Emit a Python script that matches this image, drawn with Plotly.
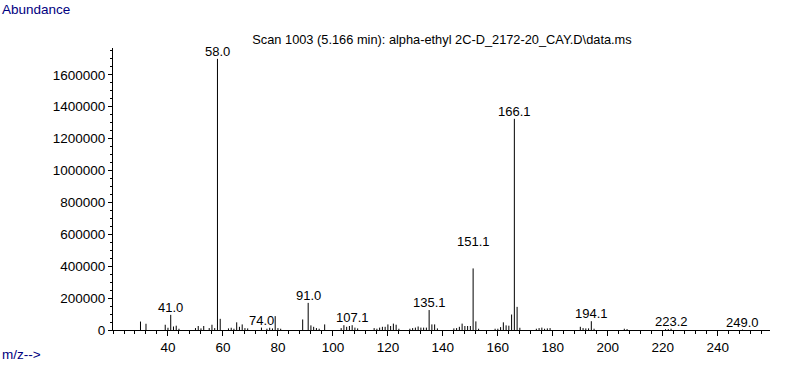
import plotly.graph_objects as go

# ---- data ----
mz = [30, 32, 39, 40, 41, 42, 43, 44, 50, 51, 52, 53, 55, 56, 57, 58, 59,
      62, 63, 64, 65, 66, 67, 68, 69, 74, 76, 77, 78, 79, 80, 81, 89, 91,
      92, 93, 94, 95, 97, 103, 104, 105, 106, 107, 108, 109, 115, 116, 117,
      118, 119, 120, 121, 122, 123, 124, 128, 129, 130, 131, 132, 133, 134,
      135, 136, 137, 138, 144, 145, 146, 147, 148, 149, 150, 151, 152, 153,
      159, 160, 161, 162, 163, 164, 165, 166, 167, 168, 174, 175, 176, 177,
      178, 179, 190, 191, 192, 193, 194, 195, 206, 207, 221, 222, 223, 249]
abundance = [53000, 39000, 33000, 14000, 95000, 22000, 27000, 8000, 12000,
             25000, 10000, 25000, 12000, 33000, 12000, 1700000, 70000,
             10000, 14000, 8000, 48000, 20000, 35000, 12000, 10000, 15000,
             8000, 14000, 10000, 87000, 12000, 8000, 66000, 170000,
             29000, 20000, 12000, 8000, 35000, 12000, 30000, 20000, 25000,
             30000, 15000, 10000, 12000, 8000, 15000,
             20000, 20000, 35000, 25000, 40000, 33000, 8000, 8000, 12000,
             15000, 22000, 15000, 15000, 15000,
             125000, 35000, 35000, 10000, 10000, 12000, 20000, 40000, 25000,
             25000, 25000, 386000, 54000, 8000,
             8000, 8000, 18000, 48000, 29000, 27000, 97000, 1324000, 145000,
             14000, 8000, 12000, 15000, 8000,
             10000, 12000, 20000, 12000, 10000, 10000, 55000, 8000, 8000,
             6000, 5000, 6000, 8000, 3000]

label_text = ["41.0", "58.0", "74.0", "91.0", "107.1", "135.1", "151.1",
              "166.1", "194.1", "223.2", "249.0"]
label_mz = [41.0, 58.0, 74.0, 91.0, 107.1, 135.1, 151.1, 166.1, 194.1,
            223.2, 249.0]

x_ticks = [40, 60, 80, 100, 120, 140, 160, 180, 200, 220, 240]
y_ticks = [0, 200000, 400000, 600000, 800000, 1000000, 1200000, 1400000,
           1600000]

title_text = "Scan 1003 (5.166 min): alpha-ethyl 2C-D_2172-20_CAY.D\\data.ms"

# ---- build stick spectrum ----
xs, ys = [], []
for m, a in zip(mz, abundance):
    xs += [m, m, None]
    ys += [0, a, None]

FONT = "Liberation Sans, Arial, sans-serif"

fig = go.Figure()
fig.add_trace(go.Scatter(x=xs, y=ys, mode="lines",
                         line=dict(color="black", width=1),
                         hoverinfo="skip", showlegend=False))

lookup = dict(zip(mz, abundance))
extra_shift = {"151.1": 19}
for t, m in zip(label_text, label_mz):
    h = lookup.get(round(m), 0)
    fig.add_annotation(x=m, y=h, text=t, showarrow=False,
                       xanchor="center", yanchor="bottom",
                       yshift=-2 + extra_shift.get(t, 0),
                       font=dict(family=FONT, size=13, color="black"))

fig.add_annotation(xref="paper", yref="paper", x=-113/657, y=1 + 48/284,
                   xanchor="left", yanchor="top", text="Abundance",
                   showarrow=False,
                   font=dict(family=FONT, size=13.5, color="#000080"))
fig.add_annotation(xref="paper", yref="paper", x=-113/657, y=-25/284,
                   xanchor="left", yanchor="middle", text="m/z-->",
                   showarrow=False,
                   font=dict(family=FONT, size=13.5, color="#000080"))

fig.update_layout(
    width=787, height=367,
    margin=dict(l=113, r=17, t=48, b=35),
    paper_bgcolor="white", plot_bgcolor="white",
    title=dict(text=title_text, x=(442 - 113) / 657, xref="paper",
               xanchor="center", y=1 - 40 / 367, yanchor="middle",
               font=dict(family=FONT, size=12.8, color="black")),
    xaxis=dict(range=[20, 259], tickvals=x_ticks, ticks="outside",
               ticklen=5, tickcolor="black", showgrid=False, zeroline=False,
               showline=True, linecolor="black", linewidth=1,
               tickfont=dict(family=FONT, size=13.5, color="black"),
               minor=dict(dtick=4, tick0=0, ticks="outside", ticklen=3,
                          tickcolor="black", showgrid=False)),
    yaxis=dict(range=[0, 1768000], tickvals=y_ticks, tickformat="d",
               ticks="outside", ticklen=4, tickcolor="black",
               showgrid=False, zeroline=False, showline=True,
               linecolor="black", linewidth=1,
               tickfont=dict(family=FONT, size=13.5, color="black"),
               minor=dict(dtick=50000, tick0=0, ticks="outside", ticklen=2,
                          tickcolor="black", showgrid=False)),
)

fig.write_html("out.html")
